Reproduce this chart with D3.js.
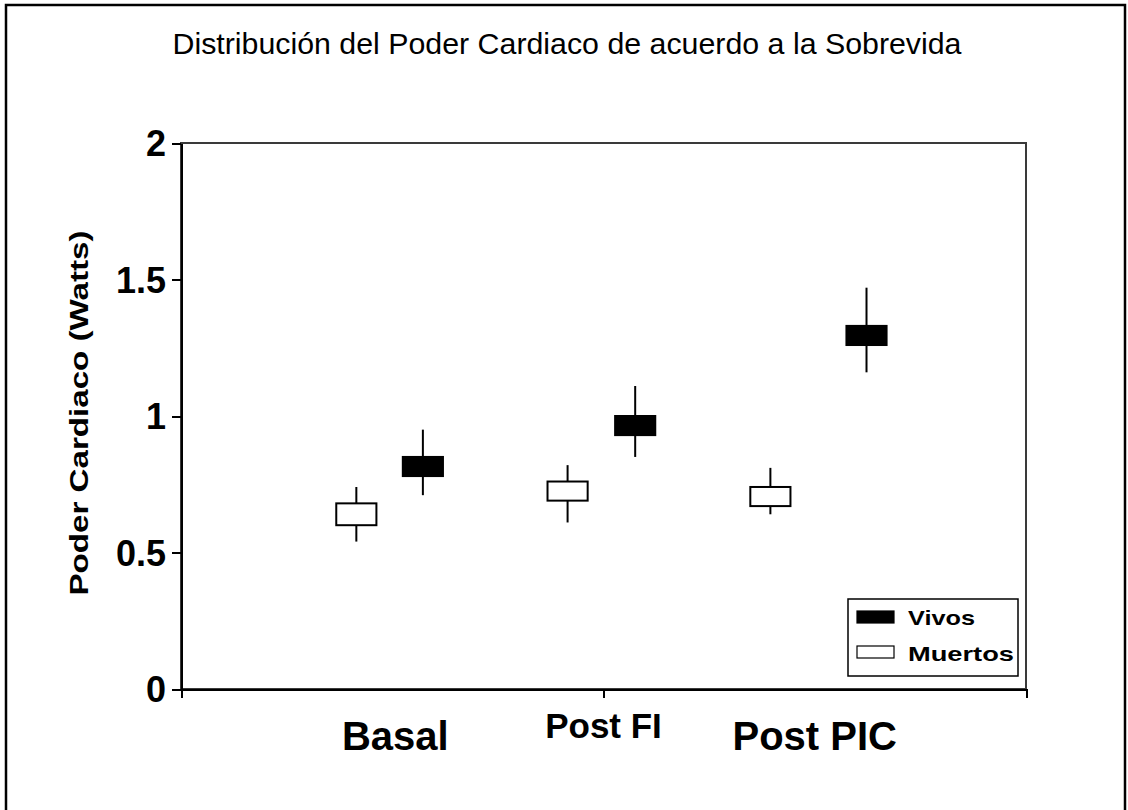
<!DOCTYPE html>
<html>
<head>
<meta charset="utf-8">
<script src="https://d3js.org/d3.v7.min.js"></script>
<style>
    body { margin: 0; background: #fff; }
    svg { display: block; font-family: "Liberation Sans", Arial, sans-serif; }
    .axis path, .axis line { stroke: #000; stroke-width: 2; shape-rendering: crispEdges; }
</style>
</head>
<body>
<script>
(function(){

    //categories and tick labels
    var categories = ["Basal", "Post FI", "Post PIC"];
    var yTicks = [0, 0.5, 1, 1.5, 2];
    var yTickLabels = ["0", "0.5", "1", "1.5", "2"];

    //Vivos series: whisker high/low and box top/bottom
    var vivosHigh = [0.95, 1.11, 1.47];
    var vivosLow = [0.71, 0.85, 1.16];
    var vivosTop = [0.85, 1.00, 1.33];
    var vivosBottom = [0.78, 0.93, 1.26];

    //Muertos series
    var muertosHigh = [0.74, 0.82, 0.81];
    var muertosLow = [0.54, 0.61, 0.64];
    var muertosTop = [0.68, 0.76, 0.74];
    var muertosBottom = [0.60, 0.69, 0.67];

    var seriesNames = ["Vivos", "Muertos"];

    window.onload = setChart();

    function setChart(){
        var width = 1128,
            height = 810;

        //plot area frame
        var plot = {left: 181, right: 1026, top: 143, bottom: 689};

        //horizontal offsets of the two boxes around each category (category units)
        var boxOffset = {
            Muertos: [-0.17, -0.17, -0.21],
            Vivos: [0.145, 0.15, 0.245]
        };
        var boxWidth = 0.19;

        var svg = d3.select("body")
            .append("svg")
            .attr("width", width)
            .attr("height", height);

        //outer chart border
        svg.append("rect")
            .attr("x", 6)
            .attr("y", 5)
            .attr("width", 1119)
            .attr("height", 820)
            .attr("fill", "#fff")
            .attr("stroke", "#000")
            .attr("stroke-width", 2.5);

        //scales
        var x = d3.scaleLinear()
            .domain([0, 4])
            .range([plot.left, plot.right]);

        var y = d3.scaleLinear()
            .domain([0, 2])
            .range([plot.bottom, plot.top]);

        //plot area border (top and right)
        svg.append("rect")
            .attr("x", plot.left)
            .attr("y", plot.top)
            .attr("width", plot.right - plot.left)
            .attr("height", plot.bottom - plot.top)
            .attr("fill", "none")
            .attr("stroke", "#3a3a3a")
            .attr("stroke-width", 2);

        //title
        svg.append("text")
            .attr("x", 567)
            .attr("y", 54)
            .attr("text-anchor", "middle")
            .attr("textLength", 789)
            .attr("lengthAdjust", "spacingAndGlyphs")
            .style("font-size", "30px")
            .text("Distribución del Poder Cardiaco de acuerdo a la Sobrevida");

        //y axis
        var yAxis = d3.axisLeft(y)
            .tickValues(yTicks)
            .tickFormat(function(d, i){ return yTickLabels[i]; })
            .tickSize(9)
            .tickSizeOuter(0)
            .tickPadding(6);

        var gy = svg.append("g")
            .attr("class", "axis")
            .attr("transform", "translate(" + plot.left + ",0)")
            .call(yAxis);
        gy.selectAll("text")
            .style("font-size", "36px")
            .style("font-weight", "bold")
            .style("font-family", "'Liberation Sans', Arial, sans-serif")
            .attr("fill", "#000")
            .attr("dy", "0.36em");

        //x axis, tick marks only
        var xAxis = d3.axisBottom(x)
            .tickValues([0, 2, 4])
            .tickFormat("")
            .tickSize(9)
            .tickSizeOuter(0);

        svg.append("g")
            .attr("class", "axis")
            .attr("transform", "translate(0," + plot.bottom + ")")
            .call(xAxis);

        //category labels
        var labelSize = [40, 35, 40];
        var labelBase = [750, 738, 750];
        svg.selectAll(".catLabel")
            .data(categories)
            .enter()
            .append("text")
            .attr("class", "catLabel")
            .attr("x", function(d, i){ return x(i + 1) + (i == 0 ? 3 : 0); })
            .attr("y", function(d, i){ return labelBase[i]; })
            .attr("text-anchor", "middle")
            .style("font-size", function(d, i){ return labelSize[i] + "px"; })
            .style("font-weight", "bold")
            .text(function(d){ return d; });

        //y axis title
        svg.append("text")
            .attr("transform", "translate(88,413) rotate(-90)")
            .attr("text-anchor", "middle")
            .attr("textLength", 365)
            .attr("lengthAdjust", "spacingAndGlyphs")
            .style("font-size", "26px")
            .style("font-weight", "bold")
            .text("Poder Cardiaco (Watts)");

        //build box data
        var boxes = [];
        categories.forEach(function(c, i){
            boxes.push({series: "Muertos", pos: i + 1 + boxOffset.Muertos[i],
                high: muertosHigh[i], low: muertosLow[i], top: muertosTop[i], bottom: muertosBottom[i]});
            boxes.push({series: "Vivos", pos: i + 1 + boxOffset.Vivos[i],
                high: vivosHigh[i], low: vivosLow[i], top: vivosTop[i], bottom: vivosBottom[i]});
        });

        var bw = x(boxWidth) - x(0);

        //whiskers
        svg.selectAll(".whisker")
            .data(boxes)
            .enter()
            .append("line")
            .attr("class", "whisker")
            .attr("x1", function(d){ return x(d.pos); })
            .attr("x2", function(d){ return x(d.pos); })
            .attr("y1", function(d){ return y(d.high); })
            .attr("y2", function(d){ return y(d.low); })
            .attr("stroke", "#000")
            .attr("stroke-width", 2);

        //boxes
        svg.selectAll(".box")
            .data(boxes)
            .enter()
            .append("rect")
            .attr("class", "box")
            .attr("x", function(d){ return x(d.pos) - bw / 2; })
            .attr("y", function(d){ return y(d.top); })
            .attr("width", bw)
            .attr("height", function(d){ return y(d.bottom) - y(d.top); })
            .attr("fill", function(d){ return d.series == "Vivos" ? "#000" : "#fff"; })
            .attr("stroke", "#000")
            .attr("stroke-width", 2);

        //legend
        var legend = svg.append("g")
            .attr("class", "legend");

        legend.append("rect")
            .attr("x", 848)
            .attr("y", 599)
            .attr("width", 170)
            .attr("height", 77)
            .attr("fill", "#fff")
            .attr("stroke", "#000")
            .attr("stroke-width", 1.5);

        var legendLen = [67, 106];
        seriesNames.forEach(function(s, i){
            legend.append("rect")
                .attr("x", 857)
                .attr("y", 611 + i * 35)
                .attr("width", 37)
                .attr("height", 12)
                .attr("fill", s == "Vivos" ? "#000" : "#fff")
                .attr("stroke", "#000")
                .attr("stroke-width", 1.2);
            legend.append("text")
                .attr("x", 908)
                .attr("y", 625 + i * 36)
                .attr("textLength", legendLen[i])
                .attr("lengthAdjust", "spacingAndGlyphs")
                .style("font-size", "21px")
                .style("font-weight", "bold")
                .text(s);
        });
    };

})();
</script>
</body>
</html>
